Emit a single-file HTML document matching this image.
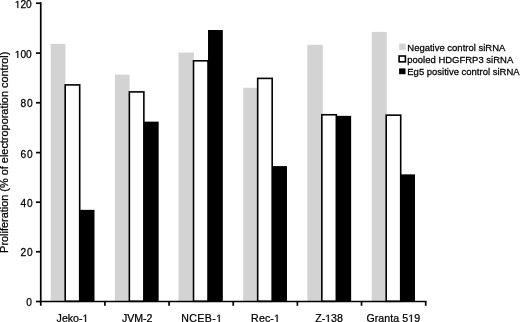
<!DOCTYPE html>
<html><head><meta charset="utf-8"><title>Proliferation chart</title><style>
html,body{margin:0;padding:0;background:#fff;}
body{width:520px;height:322px;overflow:hidden;}
svg{display:block;will-change:transform;}
text{font-family:"Liberation Sans",sans-serif;fill:#000;stroke:#000;stroke-width:0.25px;}
tspan.h{fill:transparent;stroke:none;}
</style></head><body>
<svg width="520" height="322" viewBox="0 0 520 322">
<defs><path id="one" d="M515,0L515,1237L197,1010L197,1180L530,1409L696,1409L696,0Z"/></defs>
<rect x="50.70" y="43.85" width="14.75" height="257.45" fill="#d3d3d3"/>
<rect x="79.70" y="209.85" width="14.80" height="91.45" fill="#000"/>
<rect x="65.20" y="84.90" width="14.50" height="216.40" fill="#fff" stroke="#000" stroke-width="1.6"/>
<rect x="114.86" y="74.60" width="14.70" height="226.70" fill="#d3d3d3"/>
<rect x="143.86" y="121.65" width="14.80" height="179.65" fill="#000"/>
<rect x="129.36" y="91.90" width="14.50" height="209.40" fill="#fff" stroke="#000" stroke-width="1.6"/>
<rect x="178.50" y="52.55" width="15.42" height="248.75" fill="#d3d3d3"/>
<rect x="208.02" y="30.00" width="14.80" height="271.30" fill="#000"/>
<rect x="193.52" y="60.80" width="14.50" height="240.50" fill="#fff" stroke="#000" stroke-width="1.6"/>
<rect x="243.18" y="87.80" width="14.50" height="213.50" fill="#d3d3d3"/>
<rect x="272.18" y="166.10" width="14.80" height="135.20" fill="#000"/>
<rect x="257.68" y="78.40" width="14.50" height="222.90" fill="#fff" stroke="#000" stroke-width="1.6"/>
<rect x="307.34" y="44.80" width="15.50" height="256.50" fill="#d3d3d3"/>
<rect x="336.34" y="115.85" width="14.80" height="185.45" fill="#000"/>
<rect x="321.84" y="114.75" width="14.50" height="186.55" fill="#fff" stroke="#000" stroke-width="1.6"/>
<rect x="371.73" y="31.90" width="15.04" height="269.40" fill="#d3d3d3"/>
<rect x="400.50" y="174.35" width="14.50" height="126.95" fill="#000"/>
<rect x="386.20" y="115.15" width="14.50" height="186.15" fill="#fff" stroke="#000" stroke-width="1.6"/>
<line x1="40.75" y1="2.35" x2="40.75" y2="305.8" stroke="#000" stroke-width="1.7"/>
<line x1="39.90" y1="301.5" x2="426.56" y2="301.5" stroke="#000" stroke-width="1.7"/>
<line x1="36" y1="301.50" x2="40.75" y2="301.50" stroke="#000" stroke-width="1.7"/>
<line x1="36" y1="251.75" x2="40.75" y2="251.75" stroke="#000" stroke-width="1.7"/>
<line x1="36" y1="202.20" x2="40.75" y2="202.20" stroke="#000" stroke-width="1.7"/>
<line x1="36" y1="152.60" x2="40.75" y2="152.60" stroke="#000" stroke-width="1.7"/>
<line x1="36" y1="102.75" x2="40.75" y2="102.75" stroke="#000" stroke-width="1.7"/>
<line x1="36" y1="53.10" x2="40.75" y2="53.10" stroke="#000" stroke-width="1.7"/>
<line x1="36" y1="3.20" x2="40.75" y2="3.20" stroke="#000" stroke-width="1.7"/>
<line x1="104.91" y1="301.5" x2="104.91" y2="305.8" stroke="#000" stroke-width="1.7"/>
<line x1="169.07" y1="301.5" x2="169.07" y2="305.8" stroke="#000" stroke-width="1.7"/>
<line x1="233.23" y1="301.5" x2="233.23" y2="305.8" stroke="#000" stroke-width="1.7"/>
<line x1="297.39" y1="301.5" x2="297.39" y2="305.8" stroke="#000" stroke-width="1.7"/>
<line x1="361.55" y1="301.5" x2="361.55" y2="305.8" stroke="#000" stroke-width="1.7"/>
<line x1="425.71" y1="301.5" x2="425.71" y2="305.8" stroke="#000" stroke-width="1.7"/>
<g><text id="y0" x="31.80" y="306" text-anchor="end" font-size="10.2">0</text></g>
<g transform="matrix(1,0,0,1.06,0,-15.360)"><text id="y1" x="32.60" y="256" text-anchor="end" font-size="10.2" textLength="12.14" lengthAdjust="spacing">20</text></g>
<g transform="matrix(1,0,0,1.06,0,-12.420)"><text id="y2" x="32.60" y="207" text-anchor="end" font-size="10.2" textLength="12.14" lengthAdjust="spacing">40</text></g>
<g transform="matrix(1,0,0,1.06,0,-9.456)"><text id="y3" x="32.60" y="157.6" text-anchor="end" font-size="10.2" textLength="12.14" lengthAdjust="spacing">60</text></g>
<g transform="matrix(1,0,0,1.06,0,-6.420)"><text id="y4" x="32.60" y="107" text-anchor="end" font-size="10.2" textLength="12.14" lengthAdjust="spacing">80</text></g>
<g><text id="y5" x="31.80" y="58" text-anchor="end" font-size="10.2"><tspan class="h">1</tspan>00</text><use href="#one" transform="translate(14.784,58.000) scale(0.004980,-0.004980)" fill="#000" stroke="#000" stroke-width="50.2"/></g>
<g><text id="y6" x="31.80" y="8" text-anchor="end" font-size="10.2"><tspan class="h">1</tspan>20</text><use href="#one" transform="translate(14.784,8.000) scale(0.004980,-0.004980)" fill="#000" stroke="#000" stroke-width="50.2"/></g>
<g><text id="x0" x="72.50" y="322" text-anchor="middle" font-size="10.6" textLength="31.78" lengthAdjust="spacing">Jeko-<tspan class="h">1</tspan></text><use href="#one" transform="translate(82.484,322.000) scale(0.005176,-0.005176)" fill="#000" stroke="#000" stroke-width="48.3"/></g>
<g><text id="x1" x="137.13" y="322" text-anchor="middle" font-size="10.6" textLength="30.32" lengthAdjust="spacing">JVM-2</text></g>
<g><text id="x2" x="201.68" y="322" text-anchor="middle" font-size="10.6" textLength="40.68" lengthAdjust="spacing">NCEB-<tspan class="h">1</tspan></text><use href="#one" transform="translate(216.114,322.000) scale(0.005176,-0.005176)" fill="#000" stroke="#000" stroke-width="48.3"/></g>
<g><text id="x3" x="265.51" y="322" text-anchor="middle" font-size="10.6" textLength="28.84" lengthAdjust="spacing">Rec-<tspan class="h">1</tspan></text><use href="#one" transform="translate(274.024,322.000) scale(0.005176,-0.005176)" fill="#000" stroke="#000" stroke-width="48.3"/></g>
<g><text id="x4" x="329.04" y="322" text-anchor="middle" font-size="10.6" textLength="27.59" lengthAdjust="spacing">Z-<tspan class="h">1</tspan>38</text><use href="#one" transform="translate(325.188,322.000) scale(0.005176,-0.005176)" fill="#000" stroke="#000" stroke-width="48.3"/></g>
<g><text id="x5" x="393.29" y="322" text-anchor="middle" font-size="10.6" textLength="53.69" lengthAdjust="spacing">Granta 5<tspan class="h">1</tspan>9</text><use href="#one" transform="translate(408.260,322.000) scale(0.005176,-0.005176)" fill="#000" stroke="#000" stroke-width="48.3"/></g>
<text transform="translate(7.6,152.25) rotate(-90)" text-anchor="middle" font-size="10.92">Proliferation (% of electroporation control)</text>
<rect x="399.2" y="43.5" width="6.4" height="6.3" fill="#d3d3d3"/>
<rect x="399.1" y="56.0" width="6.3" height="5.85" fill="#fff" stroke="#000" stroke-width="1.6"/>
<rect x="399.1" y="68.4" width="6.4" height="5.8" fill="#000"/>
<g transform="matrix(1,0,0,1.03,0,-1.518)"><text x="407.3" y="50.6" font-size="9.5">Negative control siRNA</text></g>
<g transform="matrix(1,0,0,1.03,0,-1.884)"><text x="407.3" y="62.8" font-size="9.5">pooled HDGFRP3 siRNA</text></g>
<g transform="matrix(1,0,0,1.03,0,-2.253)"><text x="407.3" y="75.1" font-size="9.5">Eg5 positive control siRNA</text></g>
</svg>
</body></html>
